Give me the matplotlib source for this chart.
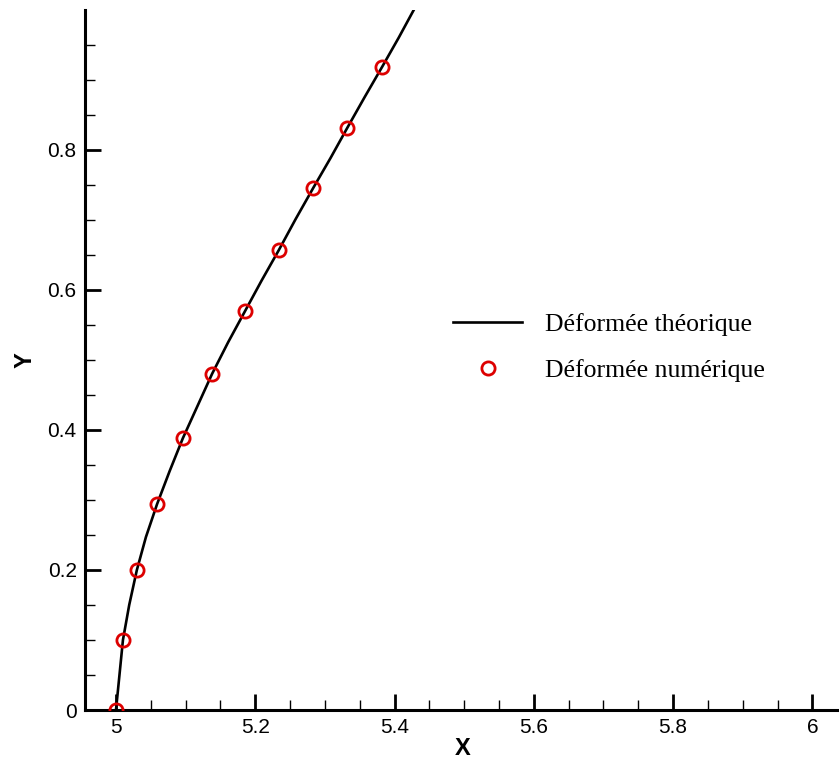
import matplotlib
matplotlib.use("Agg")
import matplotlib.pyplot as plt
from matplotlib.ticker import MultipleLocator, FixedLocator, FuncFormatter

# Theoretical deformed shape
theo_x = [5.000, 5.005, 5.010, 5.019, 5.030, 5.043, 5.059, 5.077, 5.096, 5.117,
          5.138, 5.161, 5.185, 5.209, 5.234, 5.258, 5.283, 5.308, 5.332, 5.357,
          5.382, 5.406, 5.430]
theo_y = [0.000, 0.050, 0.100, 0.150, 0.200, 0.247, 0.294, 0.341, 0.388, 0.434,
          0.480, 0.525, 0.569, 0.613, 0.657, 0.701, 0.745, 0.788, 0.831, 0.875,
          0.918, 0.960, 1.004]

# Numerical deformed shape (markers)
num_x = [5.000, 5.010, 5.030, 5.059, 5.096, 5.138, 5.185, 5.234, 5.283, 5.332, 5.382]
num_y = [0.000, 0.100, 0.200, 0.294, 0.388, 0.480, 0.569, 0.657, 0.745, 0.831, 0.918]

x_major = [5.0, 5.2, 5.4, 5.6, 5.8, 6.0]
y_major = [0.0, 0.2, 0.4, 0.6, 0.8]

label_theo = "Déformée théorique"
label_num = "Déformée numérique"

fig = plt.figure(figsize=(8.39, 7.67), dpi=100)
ax = fig.add_axes([0.1013, 0.0743, 0.8994, 0.9127])

ax.plot(theo_x, theo_y, color="black", lw=1.9, label=label_theo, zorder=2)
ax.plot(num_x, num_y, linestyle="none", marker="o", markersize=9.5,
        markerfacecolor="none", markeredgecolor="#dd0000", markeredgewidth=2.0,
        label=label_num, zorder=3)

ax.set_xlim(4.9555, 6.039)
ax.set_ylim(0, 0.9995)

for s in ["top", "right"]:
    ax.spines[s].set_visible(False)
for s in ["left", "bottom"]:
    ax.spines[s].set_linewidth(2.2)

ax.xaxis.set_major_locator(FixedLocator(x_major))
ax.xaxis.set_minor_locator(MultipleLocator(0.05))
ax.yaxis.set_major_locator(FixedLocator(y_major))
ax.yaxis.set_minor_locator(MultipleLocator(0.05))
fmt = FuncFormatter(lambda v, p: ("%.1f" % v).rstrip("0").rstrip(".") if abs(v) > 1e-9 else "0")
ax.xaxis.set_major_formatter(fmt)
ax.yaxis.set_major_formatter(fmt)

ax.tick_params(which="major", direction="in", length=11.5, width=2.0,
               labelsize=15, pad=6, colors="black")
ax.tick_params(which="minor", direction="in", length=7.5, width=1.0)
for lab in ax.get_xticklabels() + ax.get_yticklabels():
    lab.set_family("Liberation Sans")

ax.set_xlabel("X", fontsize=17, fontweight="bold", family="Liberation Sans", labelpad=0)
ax.set_ylabel("Y", fontsize=17, fontweight="bold", family="Liberation Sans", labelpad=8)

leg = ax.legend(loc="upper left", bbox_to_anchor=(0.457, 0.60), frameon=False,
                prop={"family": "Liberation Serif", "size": 18.5},
                handlelength=2.7, handletextpad=0.9, labelspacing=0.9)

fig.savefig("out.png", dpi=100)
